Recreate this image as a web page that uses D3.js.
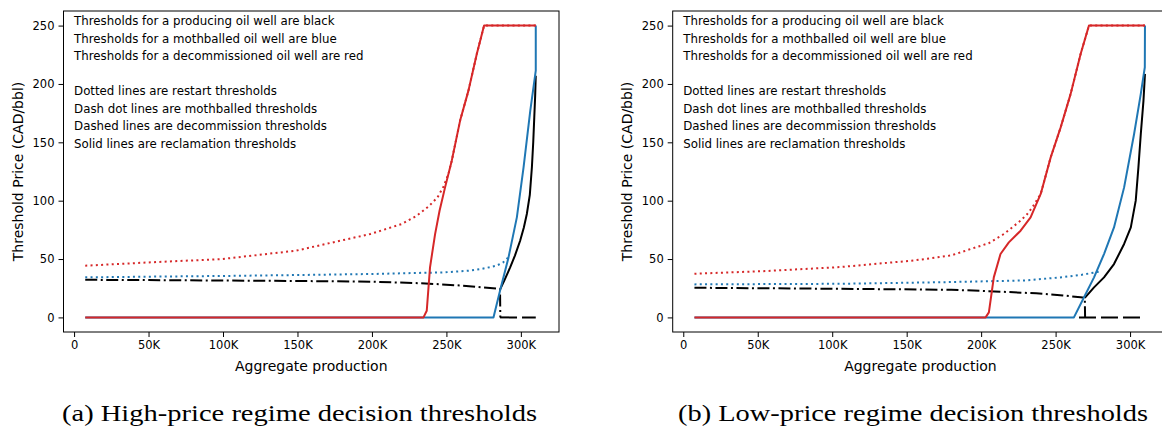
<!DOCTYPE html>
<html>
<head>
<meta charset="utf-8">
<script src="https://cdn.jsdelivr.net/npm/d3@7"></script>
<style>
  body { margin: 0; background: #fff; }
  svg { display: block; }
  .tick text { font-family: "DejaVu Sans", sans-serif; font-size: 11.5px; fill: #000; }
  .tick line { stroke: #000; stroke-width: 1; }
  .axis-label { font-family: "DejaVu Sans", sans-serif; font-size: 14px; fill: #000; }
  .note { font-family: "DejaVu Sans", sans-serif; font-size: 11.8px; fill: #000; }
  .caption { font-family: "Liberation Serif", "Times New Roman", serif; font-size: 22.5px; font-weight: normal; fill: #000; }
</style>
</head>
<body>
<svg id="chart" width="1162" height="427"></svg>
<script>
// Decision thresholds vs aggregate production (x in thousands of bbl).
// Two panels: (a) high-price regime, (b) low-price regime.

const X_TICKS = [0, 50, 100, 150, 200, 250, 300];
const X_TICK_LABELS = ["0", "50K", "100K", "150K", "200K", "250K", "300K"];
const Y_TICKS = [0, 50, 100, 150, 200, 250];

const NOTES = [
  "Thresholds for a producing oil well are black",
  "Thresholds for a mothballed oil well are blue",
  "Thresholds for a decommissioned oil well are red",
  "",
  "Dotted lines are restart thresholds",
  "Dash dot lines are mothballed thresholds",
  "Dashed lines are decommission thresholds",
  "Solid lines are reclamation thresholds",
];

// ---- (a) high-price regime -------------------------------------------------
const highBlackDashDot = [[7.5, 32.2], [50, 32.0], [100, 31.6], [150, 31.2], [200, 30.6], [236, 29.1], [261, 27.2], [284, 24.6], [286, 23.8], [286.2, 0]];
const highBlackDashed  = [[286, 0], [310, 0]];
const highBlackSolid   = [[286, 23.8], [289, 32], [292.8, 42.9], [296, 53], [299.5, 65.7], [302, 77], [304, 88.6], [306, 105], [307.4, 128.6], [308.3, 150], [309, 171.4], [309.6, 190], [310, 207]];
const highBlueDotted   = [[7.5, 34.3], [50, 34.9], [100, 35.5], [150, 36.3], [200, 37.2], [248.5, 38.6], [265, 40], [273.6, 41.5], [283.6, 44.3], [288, 47], [291.5, 51.4]];
const highBlueSolid    = [[7.5, 0], [281.6, 0], [286, 22.9], [291.7, 51.4], [297.3, 85.7], [301.8, 128.6], [306.3, 177], [310, 211.4], [310, 250]];
const highRedDotted    = [[7.5, 44.3], [50, 47.1], [99.4, 50], [149.2, 57.2], [199, 71.5], [220, 80], [230, 87], [238, 95], [244, 102.8], [248, 112], [251.4, 123], [253.6, 134.3], [259.2, 168.6], [264.8, 194.3], [270.4, 225.7], [275.3, 250], [310, 250]];
const highRedSolid     = [[7.5, 0], [234.6, 0], [236.8, 5.7], [239, 42.9], [242.4, 71.4], [245.4, 91.4], [249.1, 111.4], [253.6, 134.3], [259.2, 168.6], [264.8, 194.3], [270.4, 225.7], [275.3, 250], [310, 250]];

// ---- (b) low-price regime --------------------------------------------------
const lowBlackDashDot = [[7.5, 25.4], [105, 24.5], [180, 23.7], [205, 22.5], [237, 20.6], [255, 18.8], [266.8, 17.2], [269.6, 16.8], [269.8, 0]];
const lowBlackDashed  = [[265.7, 0], [310, 0]];
const lowBlackSolid   = [[269.6, 16.8], [275.8, 25.7], [282.5, 34.3], [289.2, 45.7], [296, 62.9], [300.5, 77.1], [303.8, 100], [305.6, 128.6], [307.2, 157.1], [309, 185.7], [310, 208.6]];
const lowBlueDotted   = [[7.5, 28.3], [105, 28.8], [180, 30.3], [230, 31.7], [255, 34.5], [267.5, 36.5], [279.2, 39.2]];
const lowBlueSolid    = [[7.5, 0], [262.3, 0], [269, 17.1], [275.8, 34.3], [282.5, 54.3], [289.2, 77.1], [296, 111.4], [302.7, 157.1], [307.2, 191.5], [309.9, 214.3], [310, 250]];
const lowRedDotted    = [[7.5, 37.4], [55, 39.7], [105, 43.1], [155, 48.8], [180, 53.1], [193, 58.6], [205, 63.5], [215.3, 71.5], [226.5, 82.9], [231, 88.6], [234.4, 94.3], [240, 105.8], [246.7, 137.1], [253.4, 162.8], [260.1, 191.5], [266.8, 225.7], [272.4, 250], [310, 250]];
const lowRedSolid     = [[7.5, 0], [203, 0], [205.2, 4.3], [208.5, 34.3], [213, 54.3], [218.6, 64.3], [226.5, 74.3], [233.2, 85.7], [240, 105.8], [246.7, 137.1], [253.4, 162.8], [260.1, 191.5], [266.8, 225.7], [272.4, 250], [310, 250]];

const CAPTIONS = ["(a) High-price regime decision thresholds", "(b) Low-price regime decision thresholds"];

const RED = "#d62728", BLUE = "#1f77b4", BLACK = "#000000";
const DASH = { solid: null, dotted: "2,3.3", dashdot: "12,3.5,2,3.5", dashed: "17,5" };

const PANELS = [
  { left: 63.5, caption: CAPTIONS[0], capX: 299.5, capLen: 475, series: [
    { data: highBlackDashDot, color: BLACK, style: "dashdot" },
    { data: highBlackDashed,  color: BLACK, style: "dashed" },
    { data: highBlackSolid,   color: BLACK, style: "solid" },
    { data: highBlueDotted,   color: BLUE,  style: "dotted" },
    { data: highBlueSolid,    color: BLUE,  style: "solid" },
    { data: highRedDotted,    color: RED,   style: "dotted" },
    { data: highRedSolid,     color: RED,   style: "solid" },
  ]},
  { left: 672.7, caption: CAPTIONS[1], capX: 913, capLen: 470, series: [
    { data: lowBlackDashDot, color: BLACK, style: "dashdot" },
    { data: lowBlackDashed,  color: BLACK, style: "dashed" },
    { data: lowBlackSolid,   color: BLACK, style: "solid" },
    { data: lowBlueDotted,   color: BLUE,  style: "dotted" },
    { data: lowBlueSolid,    color: BLUE,  style: "solid" },
    { data: lowRedDotted,    color: RED,   style: "dotted" },
    { data: lowRedSolid,     color: RED,   style: "solid" },
  ]},
];

const TOP = 11, W = 495.5, H = 321;
const svg = d3.select("#chart");

PANELS.forEach(drawPanel);

function drawPanel(p) {
  const g = svg.append("g").attr("transform", `translate(${p.left},${TOP})`);
  const x = d3.scaleLinear().domain([-7.1, 325.6]).range([0, W]);
  const y = d3.scaleLinear().domain([-12.5, 262.5]).range([H, 0]);

  const xAx = g.append("g").attr("transform", `translate(0,${H})`)
    .call(d3.axisBottom(x).tickValues(X_TICKS).tickFormat((d, i) => X_TICK_LABELS[i]).tickSize(5).tickPadding(4));
  xAx.select(".domain").remove();
  const yAx = g.append("g")
    .call(d3.axisLeft(y).tickValues(Y_TICKS).tickFormat(d3.format("d")).tickSize(5).tickPadding(4));
  yAx.select(".domain").remove();

  const line = d3.line().x((d) => x(d[0])).y((d) => y(d[1]));
  p.series.forEach((s) => {
    g.append("path")
      .datum(s.data)
      .attr("d", line)
      .attr("fill", "none")
      .attr("stroke", s.color)
      .attr("stroke-width", 2)
      .attr("stroke-linejoin", "round")
      .attr("stroke-dasharray", DASH[s.style]);
  });

  // Spines on top
  g.append("rect").attr("width", W).attr("height", H)
    .attr("fill", "none").attr("stroke", "#000").attr("stroke-width", 1);

  g.append("g").selectAll("text.note")
    .data(NOTES)
    .join("text")
    .attr("class", "note")
    .attr("x", x(0))
    .attr("y", (d, i) => 14 + i * 17.55)
    .text((d) => d);

  g.append("text").attr("class", "axis-label")
    .attr("text-anchor", "middle")
    .attr("x", W / 2).attr("y", H + 39)
    .text("Aggregate production");
  g.append("text").attr("class", "axis-label")
    .attr("text-anchor", "middle")
    .attr("transform", `translate(${-41},${H / 2}) rotate(-90)`)
    .text("Threshold Price (CAD/bbl)");

  svg.append("text").attr("class", "caption")
    .attr("text-anchor", "middle")
    .attr("x", p.capX).attr("y", 421)
    .attr("textLength", p.capLen).attr("lengthAdjust", "spacingAndGlyphs")
    .text(p.caption);
}
</script>
</body>
</html>
